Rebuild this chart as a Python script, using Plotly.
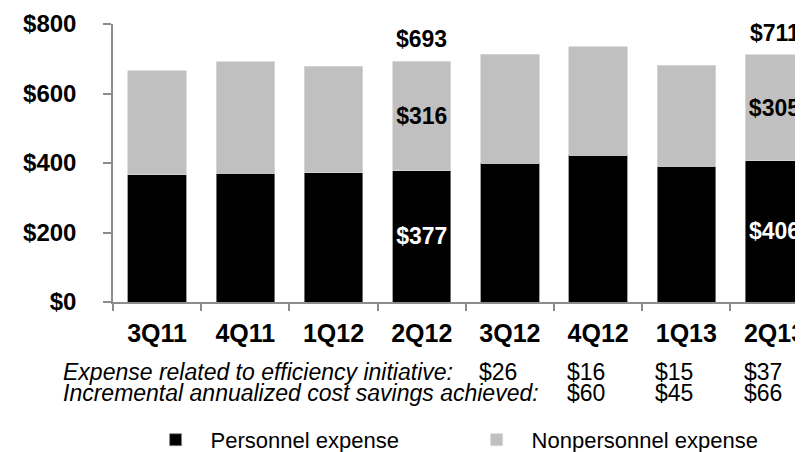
import plotly.graph_objects as go

# ---- data ----
categories = ["3Q11", "4Q11", "1Q12", "2Q12", "3Q12", "4Q12", "1Q13", "2Q13"]
personnel = [366, 371, 372, 377, 400, 423, 391, 406]
nonpersonnel = [299, 321, 307, 316, 313, 311, 290, 305]
labeled_quarters = ["2Q12", "2Q13"]

eff_quarters = ["3Q12", "4Q12", "1Q13", "2Q13"]
eff_expense = [26, 16, 15, 37]
sav_quarters = ["4Q12", "1Q13", "2Q13"]
sav_values = [60, 45, 66]

row_labels = ["Expense related to efficiency initiative:",
              "Incremental annualized cost savings achieved:"]
y_ticks = [0, 200, 400, 600, 800]

totals = [p + n for p, n in zip(personnel, nonpersonnel)]

FONT = "Liberation Sans, Arial, sans-serif"
AXIS_COLOR = "#8c8c8c"

def lab(vals):
    return [f"${v}" if c in labeled_quarters else "" for c, v in zip(categories, vals)]

fig = go.Figure()
fig.add_trace(go.Bar(
    x=categories, y=personnel, name="Personnel expense",
    marker=dict(color="#000000", line=dict(color="#8a8a8a", width=0.8)),
    text=lab(personnel), textposition="inside", insidetextanchor="middle",
    textfont=dict(family=FONT, size=23, color="white", weight="bold"),
    hoverinfo="skip",
))
fig.add_trace(go.Bar(
    x=categories, y=nonpersonnel, name="Nonpersonnel expense",
    marker=dict(color="#c0c0c0", line=dict(color="#d8d8d8", width=0.8)),
    text=lab(nonpersonnel), textposition="inside", insidetextanchor="middle",
    textfont=dict(family=FONT, size=23, color="black", weight="bold"),
    hoverinfo="skip",
))

annotations = []
for c, t in zip(categories, totals):
    if c in labeled_quarters:
        annotations.append(dict(
            x=c, y=t, xref="x", yref="y", text=f"${t}", showarrow=False,
            yanchor="bottom", yshift=7,
            font=dict(family=FONT, size=23, color="black", weight="bold")))

row_y = [-0.2504, -0.326]
for txt, yy in zip(row_labels, row_y):
    annotations.append(dict(
        x=-0.075, y=yy, xref="paper", yref="paper", text=txt, showarrow=False,
        xanchor="left", yanchor="middle",
        font=dict(family=FONT, size=23, color="black", style="italic")))

for c, v in zip(eff_quarters, eff_expense):
    annotations.append(dict(
        x=c, y=row_y[0], xref="x", yref="paper", text=f"${v}", showarrow=False,
        xanchor="center", yanchor="middle", xshift=-12,
        font=dict(family=FONT, size=23, color="black")))
for c, v in zip(sav_quarters, sav_values):
    annotations.append(dict(
        x=c, y=row_y[1], xref="x", yref="paper", text=f"${v}", showarrow=False,
        xanchor="center", yanchor="middle", xshift=-12,
        font=dict(family=FONT, size=23, color="black")))

fig.update_layout(
    width=795, height=444, autosize=False,
    margin=dict(l=105, r=0, t=16, b=150, autoexpand=False),
    paper_bgcolor="white", plot_bgcolor="white",
    barmode="stack", bargap=0.338,
    font=dict(family=FONT, color="black"),
    showlegend=True,
    legend=dict(
        orientation="h", x=0.04, xanchor="left", y=-0.496, yanchor="middle",
        font=dict(family=FONT, size=22, color="black"),
        itemwidth=60, entrywidth=246, traceorder="normal",
        bgcolor="rgba(0,0,0,0)"),
    annotations=annotations,
)
fig.update_xaxes(
    type="category", range=[-0.5, 7.323],
    showline=True, linecolor=AXIS_COLOR, linewidth=1.5,
    ticks="outside", tickson="boundaries", ticklen=7, tickcolor=AXIS_COLOR, tickwidth=1.5,
    tickfont=dict(family=FONT, size=25, color="black", weight="bold"),
    ticklabelstandoff=8, showgrid=False, zeroline=False,
)
fig.update_yaxes(
    range=[0, 800], tickvals=y_ticks, ticktext=[f"${v}" for v in y_ticks],
    showline=True, linecolor=AXIS_COLOR, linewidth=1.5,
    ticks="outside", ticklen=8, tickcolor=AXIS_COLOR, tickwidth=1.5,
    tickfont=dict(family=FONT, size=24, color="black", weight="bold"),
    ticklabelstandoff=22, showgrid=False, zeroline=False,
)

fig.write_html("out.html")
